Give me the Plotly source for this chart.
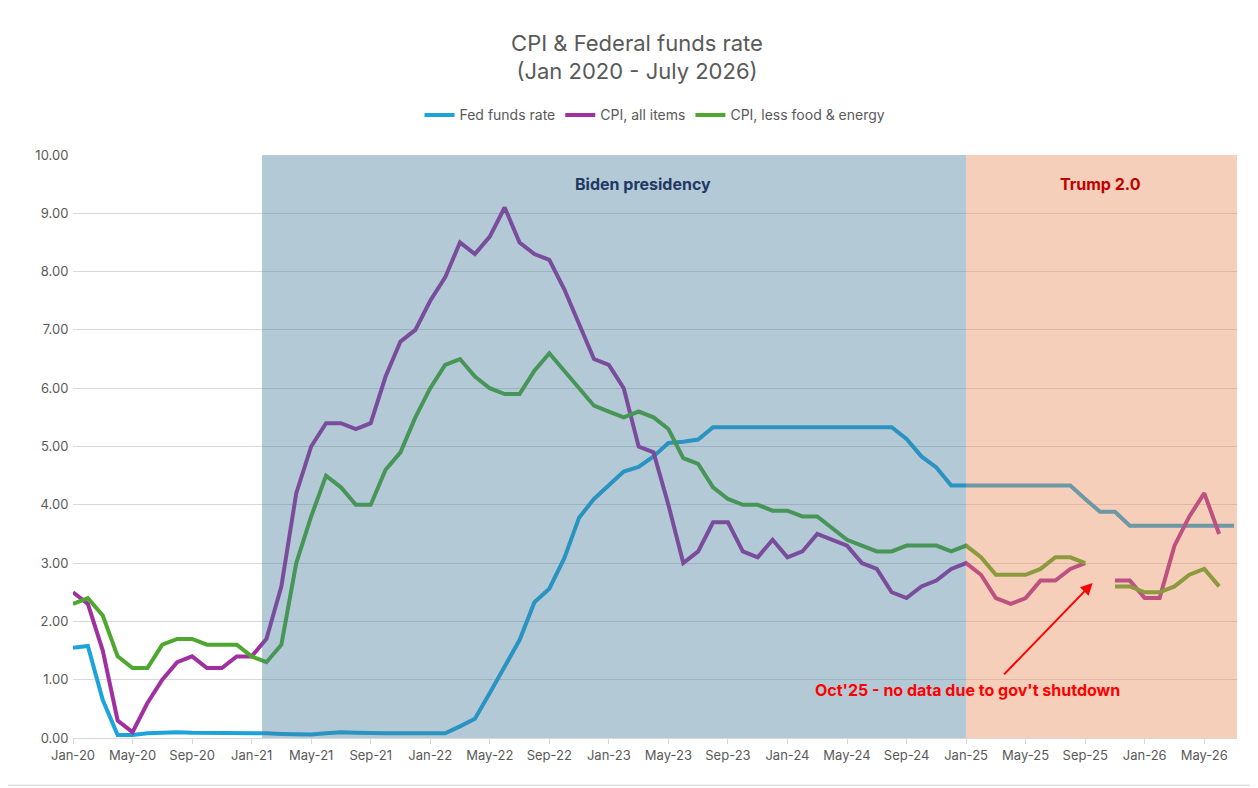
import plotly.graph_objects as go

# --- data (monthly, Jan-20 .. Jul-26) ---
MONTHS = [f"{m}-{y:02d}" for y in range(20, 27)
          for m in ["Jan", "Feb", "Mar", "Apr", "May", "Jun", "Jul", "Aug", "Sep", "Oct", "Nov", "Dec"]][:79]

fed_funds = [
    1.55, 1.58, 0.65, 0.05, 0.05, 0.08, 0.09, 0.10, 0.09, 0.09, 0.09, 0.09,
    0.09, 0.08, 0.07, 0.07, 0.06, 0.08, 0.10, 0.09, 0.08, 0.08, 0.08, 0.08,
    0.08, 0.08, 0.20, 0.33, 0.77, 1.21, 1.68, 2.33, 2.56, 3.08, 3.78, 4.10,
    4.33, 4.57, 4.65, 4.83, 5.06, 5.08, 5.12, 5.33, 5.33, 5.33, 5.33, 5.33,
    5.33, 5.33, 5.33, 5.33, 5.33, 5.33, 5.33, 5.33, 5.13, 4.83, 4.64, 4.33,
    4.33, 4.33, 4.33, 4.33, 4.33, 4.33, 4.33, 4.33, 4.10, 3.88, 3.88, 3.64,
    3.64, 3.64, 3.64, 3.64, 3.64, 3.64, 3.64,
]
cpi_all = [
    2.5, 2.3, 1.5, 0.3, 0.1, 0.6, 1.0, 1.3, 1.4, 1.2, 1.2, 1.4,
    1.4, 1.7, 2.6, 4.2, 5.0, 5.4, 5.4, 5.3, 5.4, 6.2, 6.8, 7.0,
    7.5, 7.9, 8.5, 8.3, 8.6, 9.1, 8.5, 8.3, 8.2, 7.7, 7.1, 6.5,
    6.4, 6.0, 5.0, 4.9, 4.0, 3.0, 3.2, 3.7, 3.7, 3.2, 3.1, 3.4,
    3.1, 3.2, 3.5, 3.4, 3.3, 3.0, 2.9, 2.5, 2.4, 2.6, 2.7, 2.9,
    3.0, 2.8, 2.4, 2.3, 2.4, 2.7, 2.7, 2.9, 3.0, None, 2.7, 2.7,
    2.4, 2.4, 3.3, 3.8, 4.2, 3.5, None,
]
cpi_core = [
    2.3, 2.4, 2.1, 1.4, 1.2, 1.2, 1.6, 1.7, 1.7, 1.6, 1.6, 1.6,
    1.4, 1.3, 1.6, 3.0, 3.8, 4.5, 4.3, 4.0, 4.0, 4.6, 4.9, 5.5,
    6.0, 6.4, 6.5, 6.2, 6.0, 5.9, 5.9, 6.3, 6.6, 6.3, 6.0, 5.7,
    5.6, 5.5, 5.6, 5.5, 5.3, 4.8, 4.7, 4.3, 4.1, 4.0, 4.0, 3.9,
    3.9, 3.8, 3.8, 3.6, 3.4, 3.3, 3.2, 3.2, 3.3, 3.3, 3.3, 3.2,
    3.3, 3.1, 2.8, 2.8, 2.8, 2.9, 3.1, 3.1, 3.0, None, 2.6, 2.6,
    2.5, 2.5, 2.6, 2.8, 2.9, 2.6, None,
]

x = list(range(len(MONTHS)))
tick_idx = x[::4]
tick_txt = [MONTHS[i] for i in tick_idx]

FONT = "Inter"
fig = go.Figure()
for name, vals, col in [("Fed funds rate", fed_funds, "#1CA3DC"),
                        ("CPI, all items", cpi_all, "#A0309F"),
                        ("CPI, less food & energy", cpi_core, "#4EA72E")]:
    fig.add_trace(go.Scatter(x=x, y=vals, name=name, mode="lines",
                             line=dict(color=col, width=4), connectgaps=False))

# presidency shading, drawn over the lines like the original
fig.add_shape(type="rect", xref="x", yref="y", x0=12.7, x1=60, y0=0, y1=10,
              fillcolor="rgba(65,122,152,0.4)", line_width=0, layer="above")
fig.add_shape(type="rect", xref="x", yref="y", x0=60, x1=78.2, y0=0, y1=10,
              fillcolor="rgba(232,135,85,0.4)", line_width=0, layer="above")
fig.add_shape(type="rect", xref="paper", yref="paper", x0=-0.060, x1=1.0155, y0=-0.081, y1=1.26,
              line=dict(color="#D0D0D0", width=1))

fig.add_annotation(x=38.3, y=9.5, text="<b>Biden presidency</b>", showarrow=False,
                   font=dict(size=16, color="#1F3864", family=FONT))
fig.add_annotation(x=69, y=9.5, text="<b>Trump 2.0</b>", showarrow=False,
                   font=dict(size=16, color="#C00000", family=FONT))
fig.add_annotation(x=60.1, y=0.82, text="<b>Oct'25 - no data due to gov't shutdown</b>",
                   showarrow=False, font=dict(size=16, color="#FF0000", family=FONT))
fig.add_annotation(x=68.5, y=2.66, ax=-90, ay=93, text="", showarrow=True,
                   arrowhead=2, arrowsize=1.2, arrowwidth=2, arrowcolor="#FF0000")

fig.update_layout(
    width=1258, height=788, plot_bgcolor="white", paper_bgcolor="white",
    margin=dict(l=65, r=29, t=147, b=58),
    font=dict(family=FONT, color="#595959", size=13),
    title=dict(text="CPI & Federal funds rate<br>(Jan 2020 - July 2026)", x=0.5, y=0.946,
               xanchor="center", yanchor="top", font=dict(size=22, color="#595959")),
    legend=dict(orientation="h", x=0.5, xanchor="center", y=1.068, yanchor="middle",
                font=dict(size=14, color="#595959")),
    xaxis=dict(range=[0, 78.2], tickvals=tick_idx, ticktext=tick_txt, showgrid=False,
               showline=True, linecolor="#D9D9D9", ticks="outside", tickcolor="#D9D9D9",
               ticklen=5, zeroline=False),
    yaxis=dict(range=[0, 10], dtick=1, tickformat=".2f", showgrid=True, gridcolor="#D9D9D9",
               zeroline=False, ticks="", ticksuffix=" "),
)

fig.write_html("out.html")
